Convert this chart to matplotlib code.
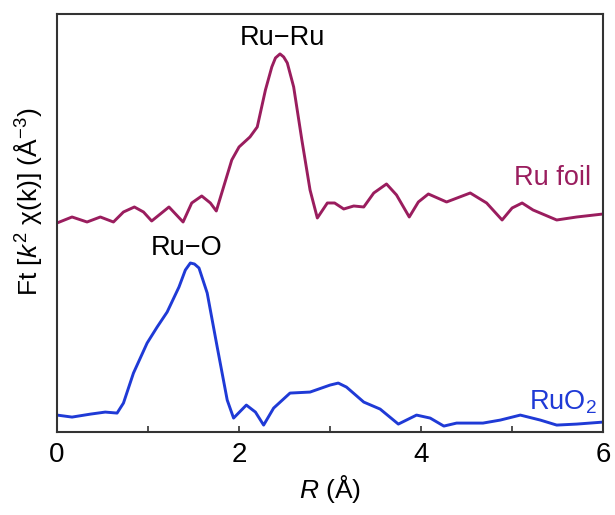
import numpy as np
import matplotlib
matplotlib.use('Agg')
from matplotlib import pyplot as plt

# data (R in Angstrom, FT magnitude in arbitrary units)
r_foil = [0.0, 0.165, 0.33, 0.476, 0.62, 0.73, 0.85, 0.95, 1.04, 1.23,
          1.385, 1.48, 1.59, 1.685, 1.75, 1.83, 1.92, 2.0, 2.12, 2.2,
          2.29, 2.36, 2.40, 2.45, 2.49, 2.53, 2.6, 2.69, 2.78, 2.86,
          2.97, 3.05, 3.15, 3.26, 3.37, 3.48, 3.62, 3.73, 3.87, 3.97,
          4.08, 4.28, 4.54, 4.72, 4.89, 5.0, 5.11, 5.23, 5.49, 5.71, 6.0]
ft_foil = [209, 215, 210, 215, 210, 220, 225, 220, 211, 225,
           210, 229, 236, 229, 221, 245, 272, 285, 295, 305,
           342, 365, 374, 378, 375, 369, 345, 292, 242, 214,
           229, 229, 223, 226, 225, 239, 248, 237, 215, 230,
           238, 230, 239, 229, 212, 224, 229, 222, 212, 215, 218]

r_ruo2 = [0.0, 0.165, 0.37, 0.53, 0.66, 0.73, 0.84, 0.99, 1.1, 1.21,
          1.34, 1.41, 1.465, 1.51, 1.56, 1.65, 1.76, 1.87, 1.94, 2.08,
          2.18, 2.27, 2.38, 2.56, 2.78, 3.0, 3.09, 3.18, 3.37, 3.55,
          3.75, 3.95, 4.1, 4.25, 4.39, 4.68, 4.87, 5.09, 5.31, 5.49,
          5.71, 6.0]
ft_ruo2 = [17, 15, 18, 20, 19, 29, 59, 89, 105, 120,
           145, 162, 169, 168, 164, 139, 85, 32, 14, 27,
           20, 7, 24, 39, 40, 47, 49, 45, 30, 23,
           8, 17, 14, 6, 9, 9, 12, 17, 12, 7,
           8, 10]

foil_color = '#9a1d5e'
ruo2_color = '#1f3ad6'

plt.rcParams['font.family'] = ['Liberation Sans', 'DejaVu Sans']
plt.rcParams['mathtext.fontset'] = 'custom'
plt.rcParams['mathtext.rm'] = 'Liberation Sans'
plt.rcParams['mathtext.it'] = 'Liberation Sans:italic'

fig = plt.figure(figsize=(6.15, 5.15), dpi=100)
ax = fig.add_axes([0.0927, 0.161, 0.888, 0.812])

ax.plot(r_foil, ft_foil, color=foil_color, lw=2.1, solid_joinstyle='round')
ax.plot(r_ruo2, ft_ruo2, color=ruo2_color, lw=2.1, solid_joinstyle='round')

ax.set_xlim(0, 6)
ax.set_ylim(0, 418)
ax.set_xticks([0, 2, 4, 6])
ax.set_xticks([1, 3, 5], minor=True)
ax.set_yticks([])
ax.tick_params(axis='x', which='both', direction='in', length=4,
               width=1.2, color='#333333', labelsize=20, pad=7)
for s in ax.spines.values():
    s.set_color('#333333')
    s.set_linewidth(1.5)

ax.set_xlabel(r'$\mathit{R}$ (Å)', fontsize=19, labelpad=4)
ax.set_ylabel(r'Ft [$\mathit{k}^2$ χ(k)] (Å$^{-3}$)', fontsize=19)
ax.yaxis.set_label_coords(-0.024, 0.55)

ax.text(2.48, 394, 'Ru−Ru', fontsize=19.5, ha='center', va='center')
ax.text(1.42, 184, 'Ru−O', fontsize=19.5, ha='center', va='center')
ax.text(5.87, 254, 'Ru foil', fontsize=19.5, color=foil_color,
        ha='right', va='center')
ax.text(5.93, 30, r'RuO$_2$', fontsize=19.5, color=ruo2_color,
        ha='right', va='center')

fig.savefig('out.png', dpi=100)
